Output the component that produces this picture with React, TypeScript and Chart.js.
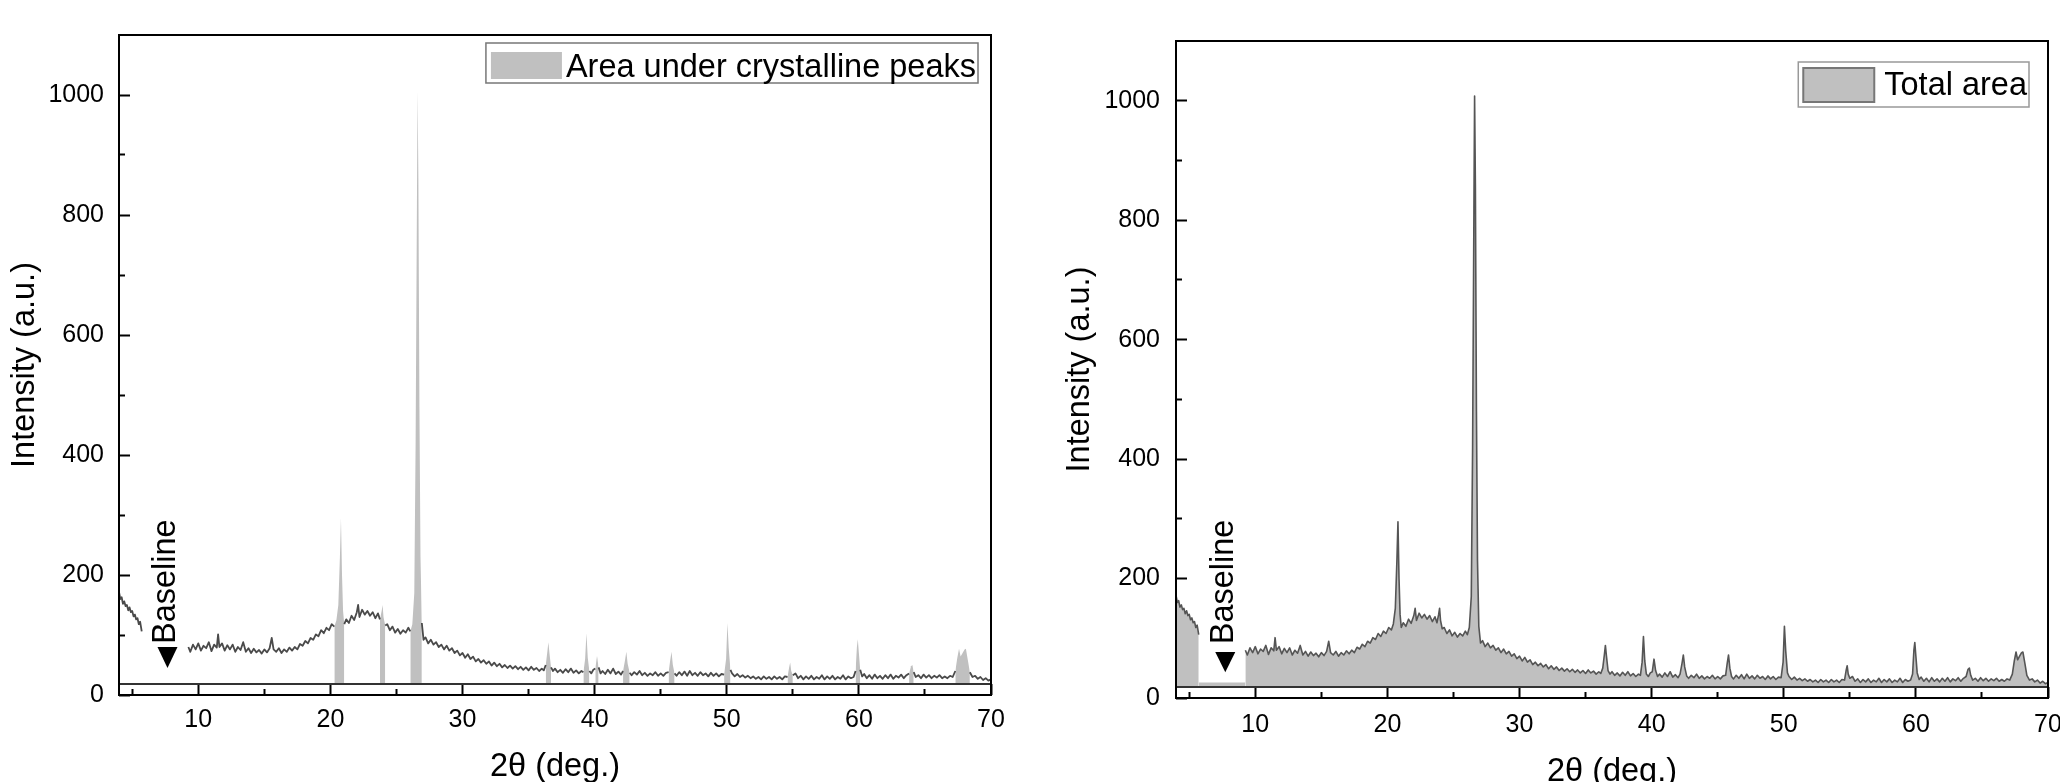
import React, { useEffect, useRef } from "react";
import { Chart, registerables } from "chart.js";

Chart.register(...registerables);

const FONT_FAMILY = '"Liberation Sans", Arial, Helvetica, sans-serif';

// ---- axes ----
const angleRange = [4, 70];
const intensityRange = [0, 1100];
const angleMajorTicks = [10, 20, 30, 40, 50, 60, 70];
const angleMinorTicks = [5, 15, 25, 35, 45, 55, 65];
const intensityMajorTicks = [0, 200, 400, 600, 800, 1000];
const intensityMinorTicks = [100, 300, 500, 700, 900];

// ---- texts ----
const xTitle = "2θ (deg.)";
const yTitle = "Intensity (a.u.)";
const baselineText = "Baseline";
const crystallineLegendText = "Area under crystalline peaks";
const totalLegendText = "Total area";

// ---- baseline + excluded window (right panel white gap) ----
const baselineIntensity = 18.5;
const excludedWindow = [5.72, 9.25];
const excludedWindowFloor = 26;

// ---- measured XRD pattern [2θ, intensity] (null = not recorded) ----
const xrdPattern: Array<[number, number | null]> = [
  [4.0, 172], [4.1, 160], [4.2, 163], [4.3, 152], [4.4, 156], [4.5, 148], [4.6, 150], [4.7, 141], [4.8, 146], [4.9, 138],
  [5.0, 140], [5.1, 131], [5.2, 134], [5.3, 126], [5.4, 128], [5.5, 118], [5.6, 122], [5.72, 106],
  [7.5, null],
  [9.25, 80], [9.4, 72], [9.6, 84], [9.8, 76], [10.0, 86], [10.2, 74], [10.4, 82], [10.6, 78], [10.8, 88], [11.0, 73],
  [11.2, 84], [11.4, 79], [11.5, 101], [11.6, 80], [11.8, 86], [12.0, 74], [12.2, 83], [12.4, 76], [12.6, 84], [12.8, 72],
  [13.0, 80], [13.2, 75], [13.4, 88], [13.6, 72], [13.8, 78], [14.0, 70], [14.2, 77], [14.4, 71], [14.6, 75], [14.8, 69],
  [15.0, 76], [15.2, 71], [15.4, 78], [15.56, 95], [15.7, 76], [15.9, 72], [16.1, 78], [16.3, 70], [16.5, 76], [16.7, 72],
  [16.9, 79], [17.1, 74], [17.3, 80], [17.5, 76], [17.7, 85], [17.9, 82], [18.1, 90], [18.3, 86], [18.5, 95], [18.7, 92],
  [18.9, 101], [19.1, 98], [19.3, 108], [19.5, 103], [19.7, 112], [19.9, 108], [20.1, 118], [20.3, 114], [20.45, 124], [20.6, 150],
  [20.72, 230], [20.8, 295], [20.88, 200], [20.96, 140], [21.05, 118], [21.2, 126], [21.4, 120], [21.6, 132], [21.8, 125], [22.0, 138],
  [22.1, 150], [22.2, 130], [22.4, 142], [22.6, 134], [22.8, 140], [23.0, 132], [23.2, 138], [23.4, 128], [23.6, 136], [23.75, 126],
  [23.88, 140], [23.95, 150], [24.02, 130], [24.15, 116], [24.3, 118], [24.5, 108], [24.7, 114], [24.9, 104], [25.1, 110], [25.3, 102],
  [25.5, 108], [25.7, 104], [25.9, 112], [26.05, 106], [26.2, 118], [26.35, 170], [26.45, 420], [26.55, 820], [26.6, 1008], [26.66, 860],
  [26.74, 480], [26.82, 230], [26.92, 120], [27.05, 92], [27.2, 96], [27.4, 86], [27.6, 92], [27.8, 84], [28.0, 88], [28.2, 80],
  [28.4, 84], [28.6, 76], [28.8, 82], [29.0, 74], [29.2, 78], [29.4, 70], [29.6, 74], [29.8, 66], [30.0, 70], [30.2, 62],
  [30.4, 68], [30.6, 60], [30.8, 64], [31.0, 56], [31.2, 60], [31.4, 54], [31.6, 58], [31.8, 52], [32.0, 56], [32.2, 49],
  [32.4, 54], [32.6, 48], [32.8, 52], [33.0, 46], [33.2, 50], [33.4, 45], [33.6, 49], [33.8, 44], [34.0, 48], [34.2, 43],
  [34.4, 47], [34.6, 42], [34.8, 46], [35.0, 41], [35.2, 47], [35.4, 42], [35.6, 45], [35.8, 40], [36.0, 44], [36.15, 41],
  [36.3, 50], [36.42, 72], [36.5, 88], [36.58, 70], [36.7, 46], [36.85, 40], [37.0, 44], [37.2, 38], [37.4, 42], [37.6, 37],
  [37.8, 43], [38.0, 38], [38.2, 44], [38.4, 37], [38.6, 41], [38.8, 36], [39.0, 40], [39.15, 38], [39.28, 60], [39.38, 103],
  [39.48, 62], [39.6, 40], [39.75, 36], [39.9, 42], [40.05, 44], [40.18, 65], [40.3, 46], [40.45, 36], [40.6, 40], [40.8, 35],
  [41.0, 42], [41.2, 36], [41.4, 44], [41.6, 35], [41.8, 39], [42.0, 34], [42.15, 40], [42.3, 58], [42.4, 72], [42.5, 52],
  [42.65, 37], [42.8, 33], [43.0, 38], [43.2, 34], [43.4, 40], [43.6, 33], [43.8, 37], [44.0, 32], [44.2, 36], [44.4, 33],
  [44.6, 38], [44.8, 32], [45.0, 36], [45.2, 32], [45.4, 37], [45.6, 38], [45.72, 58], [45.82, 72], [45.92, 50], [46.05, 36],
  [46.2, 32], [46.4, 38], [46.6, 33], [46.8, 39], [47.0, 32], [47.2, 40], [47.4, 33], [47.6, 37], [47.8, 32], [48.0, 38],
  [48.2, 33], [48.4, 36], [48.6, 31], [48.8, 37], [49.0, 32], [49.2, 36], [49.4, 31], [49.6, 35], [49.8, 34], [49.95, 60],
  [50.05, 120], [50.15, 78], [50.28, 42], [50.4, 36], [50.6, 31], [50.8, 35], [51.0, 30], [51.2, 33], [51.4, 29], [51.6, 32],
  [51.8, 28], [52.0, 31], [52.2, 27], [52.4, 30], [52.6, 26], [52.8, 31], [53.0, 27], [53.2, 30], [53.4, 26], [53.6, 31],
  [53.8, 27], [54.0, 30], [54.2, 26], [54.4, 31], [54.6, 30], [54.72, 46], [54.8, 54], [54.88, 40], [55.0, 33], [55.2, 36],
  [55.4, 28], [55.6, 32], [55.8, 26], [56.0, 31], [56.2, 27], [56.4, 32], [56.6, 26], [56.8, 30], [57.0, 27], [57.2, 33],
  [57.4, 26], [57.6, 31], [57.8, 27], [58.0, 32], [58.2, 26], [58.4, 30], [58.6, 27], [58.8, 33], [59.0, 26], [59.2, 31],
  [59.4, 28], [59.6, 30], [59.75, 40], [59.85, 80], [59.92, 93], [60.0, 70], [60.1, 42], [60.25, 31], [60.4, 35], [60.6, 28],
  [60.8, 33], [61.0, 27], [61.2, 34], [61.4, 28], [61.6, 32], [61.8, 27], [62.0, 33], [62.2, 28], [62.4, 34], [62.6, 27],
  [62.8, 32], [63.0, 29], [63.2, 34], [63.4, 28], [63.6, 33], [63.8, 36], [63.95, 48], [64.05, 50], [64.15, 38], [64.3, 30],
  [64.5, 33], [64.7, 28], [64.9, 34], [65.1, 29], [65.3, 33], [65.5, 28], [65.7, 32], [65.9, 29], [66.1, 33], [66.3, 28],
  [66.5, 31], [66.7, 28], [66.9, 32], [67.1, 30], [67.3, 40], [67.45, 62], [67.58, 77], [67.7, 64], [67.85, 70], [68.0, 76],
  [68.1, 77], [68.25, 58], [68.4, 38], [68.6, 30], [68.8, 32], [69.0, 27], [69.2, 30], [69.4, 25], [69.6, 28], [69.8, 24],
  [70.0, 26],
];

// ---- windows of the crystalline peaks (left panel shading) ----
const crystallinePeakWindows: Array<[number, number]> = [
  [20.3, 21.05], [23.75, 24.15], [26.05, 26.92], [36.3, 36.7], [39.15, 39.6], [40.05, 40.3], [42.15, 42.65],
  [45.6, 46.05], [49.8, 50.28], [54.6, 55.0], [59.75, 60.1], [63.8, 64.15], [67.3, 68.4],
];

const FILL_GREY = "#c0c0c0";
const BIG_FONT = 32.5;

type Variant = "crystalline" | "total";

const panelLayout: Record<Variant, any> = {
  crystalline: {
    plotLeft: 119, padRight: 39, padTop: 35, bottomBox: 87,
    yTitlePad: 8.75, yTickPad: 26, xTickPad: 21, xTitlePad: -1.25,
    lineColor: "#4a4a4a", lineWidth: 1.8,
    label: { x: 7.56, startY: 85, triX: 7.67, triTop: 80, triBottom: 45 },
    legend: { text: crystallineLegendText, rightInset: 13, topInset: 8, height: 40, swatchLeft: 5, swatchTop: 9, swatchW: 71, swatchH: 27, gap: 4, padRight: 2, textBase: 34, border: "#777", swatchBorder: null },
  },
  total: {
    plotLeft: 146, padRight: 12, padTop: 41, bottomBox: 84,
    yTitlePad: 33.75, yTickPad: 27, xTickPad: 23, xTitlePad: -6.25,
    lineColor: "#555555", lineWidth: 1.6,
    label: { x: 7.65, startY: 90, triX: 7.73, triTop: 77, triBottom: 43 },
    legend: { text: totalLegendText, rightInset: 19, topInset: 21, height: 45, swatchLeft: 5, swatchTop: 6, swatchW: 71, swatchH: 34, gap: 10, padRight: 2, textBase: 33, border: "#999", swatchBorder: "#777" },
  },
};

const inPeakWindow = (x: number) => crystallinePeakWindows.some(([a, b]) => x >= a && x <= b);

function overlayPlugin(variant: Variant) {
  const L = panelLayout[variant];
  return {
    id: "overlay_" + variant,
    afterDatasetsDraw(chart: any) {
      const { ctx, chartArea, scales } = chart;
      const xs = scales.x, ys = scales.y;
      ctx.save();
      // frame
      ctx.strokeStyle = "#000";
      ctx.lineWidth = 2;
      ctx.strokeRect(chartArea.left, chartArea.top, chartArea.right - chartArea.left, chartArea.bottom - chartArea.top);

      // Baseline label
      ctx.fillStyle = "#000";
      ctx.font = `${BIG_FONT}px ${FONT_FAMILY}`;
      ctx.save();
      ctx.translate(xs.getPixelForValue(L.label.x), ys.getPixelForValue(L.label.startY));
      ctx.rotate(-Math.PI / 2);
      ctx.textAlign = "left";
      ctx.textBaseline = "middle";
      ctx.fillText(baselineText, 0, 0);
      ctx.restore();
      const tx = xs.getPixelForValue(L.label.triX);
      const tTop = ys.getPixelForValue(L.label.triTop);
      const tBot = ys.getPixelForValue(L.label.triBottom);
      ctx.beginPath();
      ctx.moveTo(tx - 10, tTop);
      ctx.lineTo(tx + 10, tTop);
      ctx.lineTo(tx, tBot);
      ctx.closePath();
      ctx.fill();

      // legend
      const lg = L.legend;
      ctx.font = `${BIG_FONT}px ${FONT_FAMILY}`;
      const tw = ctx.measureText(lg.text).width;
      const boxRight = chartArea.right - lg.rightInset;
      const boxW = lg.swatchLeft + lg.swatchW + lg.gap + tw + lg.padRight;
      const boxLeft = boxRight - boxW;
      const boxTop = chartArea.top + lg.topInset;
      ctx.fillStyle = "#fff";
      ctx.fillRect(boxLeft, boxTop, boxW, lg.height);
      ctx.strokeStyle = lg.border;
      ctx.lineWidth = 1.5;
      ctx.strokeRect(boxLeft, boxTop, boxW, lg.height);
      ctx.fillStyle = FILL_GREY;
      ctx.fillRect(boxLeft + lg.swatchLeft, boxTop + lg.swatchTop, lg.swatchW, lg.swatchH);
      if (lg.swatchBorder) {
        ctx.strokeStyle = lg.swatchBorder;
        ctx.lineWidth = 2;
        ctx.strokeRect(boxLeft + lg.swatchLeft, boxTop + lg.swatchTop, lg.swatchW, lg.swatchH);
      }
      ctx.fillStyle = "#000";
      ctx.textAlign = "left";
      ctx.textBaseline = "alphabetic";
      ctx.fillText(lg.text, boxLeft + lg.swatchLeft + lg.swatchW + lg.gap, boxTop + lg.textBase);
      ctx.restore();
    },
  };
}

function buildConfig(variant: Variant): any {
  const L = panelLayout[variant];
  const points = xrdPattern.map(([x, y]) => ({ x, y }));
  const baselinePoints = angleRange.map((x) => ({ x, y: baselineIntensity }));

  const baselineDs = {
    data: baselinePoints, borderColor: "#333", borderWidth: 2, pointRadius: 0, fill: false,
  };

  let datasets: any[];
  if (variant === "crystalline") {
    const peakPoints: any[] = [];
    crystallinePeakWindows.forEach(([a, b], i) => {
      if (i > 0) peakPoints.push({ x: (crystallinePeakWindows[i - 1][1] + a) / 2, y: null });
      xrdPattern.forEach(([x, y]) => {
        if (y !== null && x >= a && x <= b) peakPoints.push({ x, y });
      });
    });
    datasets = [
      baselineDs,
      {
        data: points, borderColor: L.lineColor, borderWidth: L.lineWidth, pointRadius: 0, fill: false,
        borderJoinStyle: "round",
        segment: {
          borderColor: (c: any) =>
            inPeakWindow(c.p0.parsed.x) && inPeakWindow(c.p1.parsed.x) ? "rgba(0,0,0,0)" : L.lineColor,
        },
      },
      {
        data: peakPoints, borderWidth: 0, borderColor: "rgba(0,0,0,0)", pointRadius: 0,
        backgroundColor: FILL_GREY, fill: { value: baselineIntensity },
      },
    ];
  } else {
    const stripPoints = excludedWindow.map((x) => ({ x, y: excludedWindowFloor }));
    datasets = [
      baselineDs,
      {
        data: points, borderColor: L.lineColor, borderWidth: L.lineWidth, pointRadius: 0,
        borderJoinStyle: "round",
        backgroundColor: FILL_GREY, fill: { value: baselineIntensity },
      },
      {
        data: stripPoints, borderWidth: 0, borderColor: "rgba(0,0,0,0)", pointRadius: 0,
        backgroundColor: FILL_GREY, fill: { value: baselineIntensity },
      },
    ];
  }

  const tickFont = { family: FONT_FAMILY, size: 25 };
  const titleFont = { family: FONT_FAMILY, size: BIG_FONT, lineHeight: 1 };
  const zeroPad = (a: any) => {
    a.paddingLeft = 0; a.paddingRight = 0; a.paddingTop = 0; a.paddingBottom = 0;
  };

  return {
    type: "line",
    data: { datasets },
    options: {
      animation: false,
      responsive: false,
      devicePixelRatio: 1,
      events: [],
      layout: { padding: { top: L.padTop, right: L.padRight, left: 0, bottom: 0 } },
      plugins: { legend: { display: false }, tooltip: { enabled: false } },
      scales: {
        x: {
          type: "linear", position: "bottom", min: angleRange[0], max: angleRange[1], weight: 1,
          afterBuildTicks: (a: any) => { a.ticks = angleMajorTicks.map((v) => ({ value: v })); },
          afterFit: (a: any) => { a.height = L.bottomBox; zeroPad(a); },
          grid: { display: true, drawOnChartArea: false, drawTicks: true, tickLength: -11, tickWidth: 2, tickColor: "#000" },
          border: { display: false },
          ticks: { padding: L.xTickPad, font: tickFont, color: "#000", maxRotation: 0, autoSkip: false, callback: (v: any) => String(v) },
          title: { display: true, text: xTitle, font: titleFont, color: "#000", padding: { top: 0, bottom: L.xTitlePad } },
        },
        xMinor: {
          type: "linear", position: "bottom", min: angleRange[0], max: angleRange[1], weight: 0, display: true,
          afterBuildTicks: (a: any) => { a.ticks = angleMinorTicks.map((v) => ({ value: v })); },
          afterFit: (a: any) => { a.height = 0; zeroPad(a); },
          grid: { display: true, drawOnChartArea: false, drawTicks: true, tickLength: -6, tickWidth: 2, tickColor: "#000" },
          border: { display: false },
          ticks: { display: false },
        },
        y: {
          type: "linear", position: "left", min: intensityRange[0], max: intensityRange[1], weight: 1,
          afterBuildTicks: (a: any) => { a.ticks = intensityMajorTicks.map((v) => ({ value: v })); },
          afterFit: (a: any) => { a.width = L.plotLeft; zeroPad(a); },
          grid: { display: true, drawOnChartArea: false, drawTicks: true, tickLength: -11, tickWidth: 2, tickColor: "#000" },
          border: { display: false },
          ticks: { padding: L.yTickPad, font: tickFont, color: "#000", autoSkip: false, callback: (v: any) => String(v) },
          title: { display: true, text: yTitle, font: titleFont, color: "#000", padding: { top: L.yTitlePad, bottom: 0 } },
        },
        yMinor: {
          type: "linear", position: "left", min: intensityRange[0], max: intensityRange[1], weight: 0, display: true,
          afterBuildTicks: (a: any) => { a.ticks = intensityMinorTicks.map((v) => ({ value: v })); },
          afterFit: (a: any) => { a.width = 0; zeroPad(a); },
          grid: { display: true, drawOnChartArea: false, drawTicks: true, tickLength: -6, tickWidth: 2, tickColor: "#000" },
          border: { display: false },
          ticks: { display: false },
        },
      },
    },
    plugins: [overlayPlugin(variant)],
  };
}

function XrdPanel({ variant, left }: { variant: Variant; left: number }) {
  const ref = useRef<HTMLCanvasElement>(null);
  useEffect(() => {
    if (!ref.current) return;
    const chart = new Chart(ref.current, buildConfig(variant));
    return () => chart.destroy();
  }, [variant]);
  return (
    <canvas
      ref={ref}
      width={1030}
      height={782}
      style={{ position: "absolute", left, top: 0, width: 1030, height: 782, display: "block" }}
    />
  );
}

export default function App() {
  return (
    <div style={{ position: "absolute", left: 0, top: 0, width: 2060, height: 782, overflow: "hidden", background: "#fff" }}>
      <XrdPanel variant="crystalline" left={0} />
      <XrdPanel variant="total" left={1030} />
    </div>
  );
}
